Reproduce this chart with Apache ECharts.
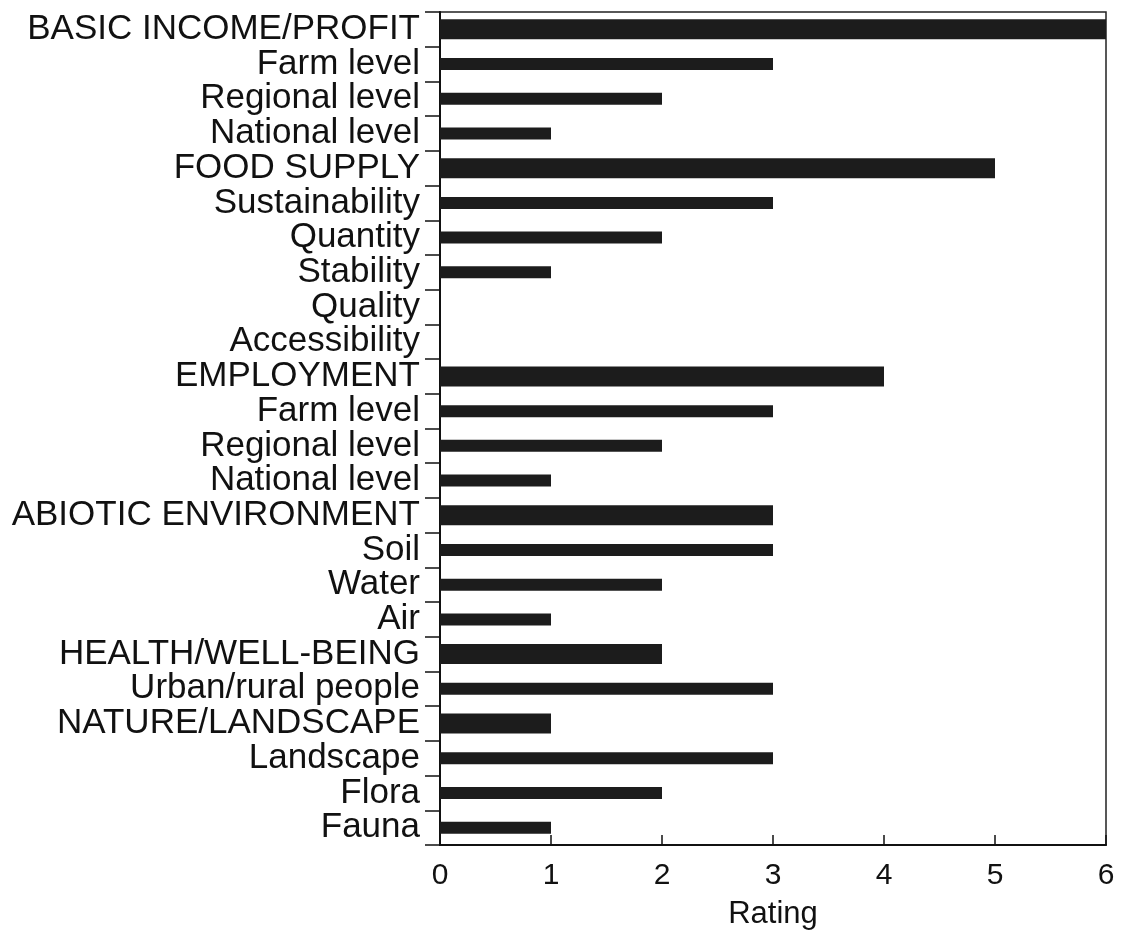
<!DOCTYPE html>
<html><head><meta charset="utf-8">
<script src="https://cdn.jsdelivr.net/npm/echarts@6/dist/echarts.min.js"></script>
<style>html,body{margin:0;padding:0;background:#fff}#c{width:1131px;height:937px}</style>
</head><body><div id="c"></div>
<script>
const categories = ["BASIC INCOME/PROFIT","Farm level","Regional level","National level","FOOD SUPPLY","Sustainability","Quantity","Stability","Quality","Accessibility","EMPLOYMENT","Farm level","Regional level","National level","ABIOTIC ENVIRONMENT","Soil","Water","Air","HEALTH/WELL-BEING","Urban/rural people","NATURE/LANDSCAPE","Landscape","Flora","Fauna"];
const isMain = [1,0,0,0,1,0,0,0,0,0,1,0,0,0,1,0,0,0,1,0,1,0,0,0];
const ratings = [6,3,2,1,5,3,2,1,0,0,4,3,2,1,3,3,2,1,2,3,1,3,2,1];
const xTicks = [0,1,2,3,4,5,6];

const mainData = ratings.map((v,i)=> isMain[i] ? v : null);
const subData = ratings.map((v,i)=> isMain[i] ? null : v);

const FONT = 'Liberation Sans, Arial, Helvetica, sans-serif';
const chart = echarts.init(document.getElementById('c'));
const yBase = {
  type:'category', data:categories, inverse:true,
  axisLine:{show:true, lineStyle:{color:'#111', width:2}},
  axisTick:{show:true, length:15, lineStyle:{color:'#111', width:1.5}},
  axisLabel:{interval:0, color:'#111', fontSize:35, fontFamily:FONT, margin:20}
};
chart.setOption({
  animation:false,
  backgroundColor:'#fff',
  grid:{left:440, right:25, top:12, bottom:92, show:true, borderColor:'#222', borderWidth:1.5, containLabel:false, outerBoundsMode:'none'},
  xAxis:{type:'value', min:0, max:6, interval:1,
    name:'Rating', nameLocation:'middle', nameGap:54,
    nameTextStyle:{color:'#111', fontSize:31, fontFamily:FONT},
    axisLine:{show:true, lineStyle:{color:'#111', width:2}},
    axisTick:{show:true, inside:true, length:10, lineStyle:{color:'#111', width:1.5}},
    axisLabel:{color:'#111', fontSize:30, fontFamily:FONT, margin:16,
      formatter:(v)=> xTicks.includes(v) ? String(v) : ''},
    splitLine:{show:false}},
  yAxis:[yBase, Object.assign({}, yBase, {show:false})],
  series:[
    {type:'bar', name:'main', yAxisIndex:0, data:mainData, barWidth:20, itemStyle:{color:'#1c1c1c'}},
    {type:'bar', name:'sub', yAxisIndex:1, data:subData, barWidth:12, itemStyle:{color:'#1c1c1c'}}
  ]
});
</script></body></html>
